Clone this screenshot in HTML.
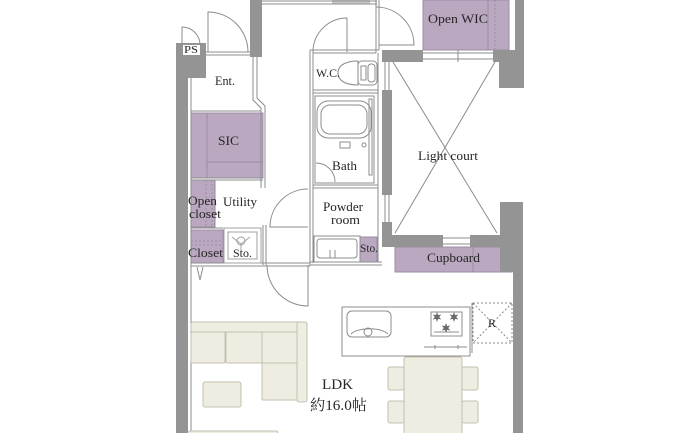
<!DOCTYPE html>
<html><head><meta charset="utf-8"><style>
html,body{margin:0;padding:0;background:#fff;}
svg{display:block}
text{font-family:"Liberation Serif","Noto Serif CJK SC",serif;fill:#262626;}
</style></head><body>
<svg width="700" height="433" viewBox="0 0 700 433" xmlns="http://www.w3.org/2000/svg">
<rect width="700" height="433" fill="#fff"/>

<!-- purple rooms -->
<g fill="#b9a8c0" stroke="#9c8ca3" stroke-width="1">
  <rect x="423" y="0" width="86" height="50"/>
  <rect x="191" y="113" width="72" height="65"/>
  <rect x="191" y="180" width="24" height="47"/>
  <rect x="191" y="230" width="32" height="33"/>
  <rect x="360" y="237" width="17" height="25"/>
  <rect x="395" y="247" width="117" height="25"/>
</g>
<g fill="none" stroke="#9c8ca3" stroke-width="1">
  <line x1="488" y1="0" x2="488" y2="50"/>
  <line x1="495" y1="0" x2="495" y2="50" stroke-dasharray="2,2"/>
  <line x1="207" y1="113" x2="207" y2="178"/>
  <line x1="207" y1="162" x2="263" y2="162"/>
  <line x1="206" y1="180" x2="206" y2="227" stroke-dasharray="2,2"/>
  <line x1="212" y1="180" x2="212" y2="227" stroke-dasharray="2,2"/>
  <line x1="191" y1="241" x2="223" y2="241" stroke-dasharray="2,2"/>
  <line x1="191" y1="245" x2="223" y2="245" stroke-dasharray="2,2"/>
  <line x1="473" y1="247" x2="473" y2="272"/>
</g>

<!-- walls -->
<g fill="#949494">
  <rect x="176" y="43" width="30" height="35"/>
  <rect x="176" y="78" width="12" height="355"/>
  <rect x="250" y="0" width="12" height="57"/>
  <rect x="382" y="50" width="41" height="12"/>
  <rect x="493" y="50" width="31" height="12"/>
  <rect x="499" y="62" width="25" height="26"/>
  <rect x="515" y="0" width="9" height="50"/>
  <rect x="382" y="90" width="10" height="105"/>
  <rect x="382" y="222" width="10" height="25"/>
  <rect x="382" y="235" width="61" height="12"/>
  <rect x="470" y="235" width="30" height="12"/>
  <rect x="500" y="202" width="23" height="70"/>
  <rect x="513" y="272" width="10" height="161"/>
</g>
<rect x="332" y="0" width="38" height="4" fill="#c9c9c9"/>
<rect x="183" y="45" width="17" height="10" fill="#fff"/>

<!-- plan lines -->
<g fill="none" stroke="#8c8c8c" stroke-width="1">
  <!-- windows -->
  <line x1="423" y1="53" x2="493" y2="53"/><line x1="423" y1="59" x2="493" y2="59"/>
  <line x1="458" y1="50" x2="458" y2="62"/>
  <line x1="385" y1="62" x2="385" y2="90"/><line x1="389" y1="62" x2="389" y2="90"/>
  <line x1="385" y1="195" x2="385" y2="222"/><line x1="389" y1="195" x2="389" y2="222"/>
  <line x1="443" y1="238" x2="470" y2="238"/><line x1="443" y1="244" x2="470" y2="244"/>
  <!-- top -->
  <line x1="262" y1="1" x2="377" y2="1"/><line x1="262" y1="4" x2="377" y2="4"/>
  <line x1="376" y1="0" x2="376" y2="53"/><line x1="379" y1="0" x2="379" y2="50"/>
  <!-- left inner -->
  <line x1="191" y1="78" x2="191" y2="433"/>
  <!-- entrance threshold -->
  <line x1="206" y1="52" x2="250" y2="52"/><line x1="206" y1="55" x2="250" y2="55"/>
  <!-- corridor left -->
  <path d="M253,57 V100 L261,108 V188"/>
  <path d="M257,57 V98 L265,106 V188"/>
  <line x1="263" y1="225" x2="263" y2="265"/><line x1="266" y1="225" x2="266" y2="265"/>
  <!-- SIC / utility lines -->
  <line x1="191" y1="111" x2="261" y2="111"/>
  <line x1="191" y1="178" x2="263" y2="178"/><line x1="191" y1="180" x2="263" y2="180"/>
  <line x1="215" y1="180" x2="215" y2="227"/>
  <line x1="191" y1="228" x2="223" y2="228"/>
  <line x1="191" y1="263" x2="310" y2="263"/><line x1="191" y1="266" x2="310" y2="266"/>
  <path d="M197,267 L200,280 L203,267"/>
  <!-- central column -->
  <line x1="310" y1="50" x2="310" y2="266"/><line x1="313" y1="50" x2="313" y2="263"/>
  <line x1="310" y1="50" x2="379" y2="50"/><line x1="313" y1="53" x2="376" y2="53"/>
  <line x1="378" y1="53" x2="378" y2="262"/>
  <line x1="313" y1="90" x2="378" y2="90"/><line x1="313" y1="93" x2="378" y2="93"/>
  <rect x="315" y="96" width="59" height="87"/>
  <line x1="313" y1="185" x2="378" y2="185"/><line x1="313" y1="188" x2="378" y2="188"/>
  <line x1="310" y1="262" x2="382" y2="262"/><line x1="310" y1="265" x2="382" y2="265"/>
  <!-- doors -->
  <path d="M182,45 V27 A18,18 0 0 1 200,45"/>
  <path d="M208,52 V12 A40,40 0 0 1 248,52"/>
  <path d="M347,52 V18 A34,34 0 0 0 313,52"/>
  <path d="M376,7 A38,38 0 0 1 414,45 H379"/>
  <path d="M308,227 H270 A38,38 0 0 1 308,189"/>
  <path d="M308,265 V306 A41,41 0 0 1 267,265"/>
  <path d="M316,163 A19,19 0 0 1 335,182"/>
  <!-- light court -->
  <line x1="393" y1="62" x2="497" y2="233"/>
  <line x1="495" y1="62" x2="395" y2="233"/>
  <!-- bath tub -->
  <rect x="317" y="101" width="54" height="37" rx="11"/>
  <rect x="321" y="105" width="46" height="29" rx="9"/>
  <rect x="340" y="142" width="10" height="6"/>
  <circle cx="364" cy="145" r="2"/>
  <rect x="369" y="99" width="3" height="76"/>
  <!-- toilet -->
  <path d="M338,73 C338,64 348,61 358,61 L358,85 C348,85 338,82 338,73 Z"/>
  <rect x="358" y="61" width="19" height="24" rx="4"/>
  <path d="M361,66 H366 V80 H361 Z"/>
  <rect x="368" y="64" width="7" height="18" rx="3"/>
  <!-- vanity -->
  <rect x="314" y="236" width="46" height="26"/>
  <rect x="317" y="239" width="40" height="19" rx="3"/>
  <line x1="330" y1="250" x2="330" y2="258"/><line x1="335" y1="250" x2="335" y2="258"/>
  <!-- washing machine -->
  <rect x="224" y="228" width="37" height="35" stroke="#a0a0a0"/>
  <rect x="228" y="232" width="29" height="27" stroke="#a0a0a0"/>
  <path d="M232,237 L241,244 L250,237 M241,244 V256" stroke="#a0a0a0"/>
  <circle cx="241" cy="241" r="4" stroke="#a0a0a0"/>
</g>

<!-- kitchen -->
<g fill="none" stroke="#8c8c8c" stroke-width="1">
  <rect x="342" y="307" width="128" height="49" fill="#fff"/>
  <rect x="347" y="311" width="44" height="26" rx="5"/>
  <path d="M351,334 C358,327 380,327 388,334"/>
  <circle cx="368" cy="332" r="4"/>
  <rect x="431" y="312" width="31" height="24"/>
  <line x1="434" y1="332" x2="459" y2="332"/>
  <line x1="424" y1="347" x2="467" y2="347"/>
  <line x1="435" y1="345" x2="435" y2="349"/><line x1="458" y1="345" x2="458" y2="349"/>
  <line x1="472" y1="303" x2="472" y2="353"/>
  <rect x="473" y="303" width="39" height="40" stroke-dasharray="2,2"/>
  <line x1="473" y1="303" x2="512" y2="343" stroke-dasharray="2,2"/>
  <line x1="512" y1="303" x2="473" y2="343" stroke-dasharray="2,2"/>
</g>
<g fill="#6a6a6a">
  <polygon transform="translate(437,317)" points="0,-5 1.1,-1.9 4.3,-2.5 2.2,0 4.3,2.5 1.1,1.9 0,5 -1.1,1.9 -4.3,2.5 -2.2,0 -4.3,-2.5 -1.1,-1.9"/>
  <polygon transform="translate(454,317)" points="0,-5 1.1,-1.9 4.3,-2.5 2.2,0 4.3,2.5 1.1,1.9 0,5 -1.1,1.9 -4.3,2.5 -2.2,0 -4.3,-2.5 -1.1,-1.9"/>
  <polygon transform="translate(446,328)" points="0,-5 1.1,-1.9 4.3,-2.5 2.2,0 4.3,2.5 1.1,1.9 0,5 -1.1,1.9 -4.3,2.5 -2.2,0 -4.3,-2.5 -1.1,-1.9"/>
</g>

<!-- furniture -->
<g fill="#efede1" stroke="#c3c1b1" stroke-width="1">
  <rect x="191" y="322" width="116" height="10" rx="2"/>
  <rect x="297" y="322" width="10" height="80" rx="2"/>
  <rect x="191" y="332" width="34" height="31" rx="1"/>
  <rect x="226" y="332" width="36" height="31" rx="1"/>
  <rect x="262" y="332" width="35" height="31" rx="1"/>
  <rect x="262" y="363" width="35" height="37" rx="1"/>
  <rect x="203" y="382" width="38" height="25" rx="2"/>
  <rect x="188" y="431" width="90" height="6" rx="2"/>
  <rect x="404" y="357" width="58" height="82" rx="2"/>
  <rect x="388" y="367" width="16" height="23" rx="2"/>
  <rect x="388" y="401" width="16" height="22" rx="2"/>
  <rect x="462" y="367" width="16" height="23" rx="2"/>
  <rect x="462" y="401" width="16" height="22" rx="2"/>
</g>

<!-- labels -->
<text x="184" y="53" font-size="11" textLength="14" lengthAdjust="spacingAndGlyphs">PS</text>
<text x="215" y="85" font-size="13" textLength="20" lengthAdjust="spacingAndGlyphs">Ent.</text>
<text x="218" y="145" font-size="13" textLength="21" lengthAdjust="spacingAndGlyphs">SIC</text>
<text x="188" y="205" font-size="13" textLength="29" lengthAdjust="spacingAndGlyphs">Open</text>
<text x="189" y="218" font-size="13" textLength="32" lengthAdjust="spacingAndGlyphs">closet</text>
<text x="223" y="206" font-size="13" textLength="34" lengthAdjust="spacingAndGlyphs">Utility</text>
<text x="188" y="257" font-size="13" textLength="35" lengthAdjust="spacingAndGlyphs">Closet</text>
<text x="233" y="257" font-size="12" textLength="19" lengthAdjust="spacingAndGlyphs">Sto.</text>
<text x="316" y="77" font-size="12" textLength="24" lengthAdjust="spacingAndGlyphs">W.C.</text>
<text x="332" y="170" font-size="13" textLength="25" lengthAdjust="spacingAndGlyphs">Bath</text>
<text x="323" y="211" font-size="13" textLength="40" lengthAdjust="spacingAndGlyphs">Powder</text>
<text x="331" y="224" font-size="13" textLength="29" lengthAdjust="spacingAndGlyphs">room</text>
<text x="360" y="252" font-size="12" textLength="18" lengthAdjust="spacingAndGlyphs">Sto.</text>
<text x="428" y="23" font-size="13" textLength="60" lengthAdjust="spacingAndGlyphs">Open WIC</text>
<text x="418" y="160" font-size="13" textLength="60" lengthAdjust="spacingAndGlyphs">Light court</text>
<text x="427" y="262" font-size="13" textLength="53" lengthAdjust="spacingAndGlyphs">Cupboard</text>
<text x="488" y="327" font-size="12">R</text>
<text x="322" y="389" font-size="15" textLength="31" lengthAdjust="spacingAndGlyphs">LDK</text>
<text x="310" y="410" font-size="15" textLength="57" lengthAdjust="spacingAndGlyphs">約16.0帖</text>
</svg>
</body></html>
